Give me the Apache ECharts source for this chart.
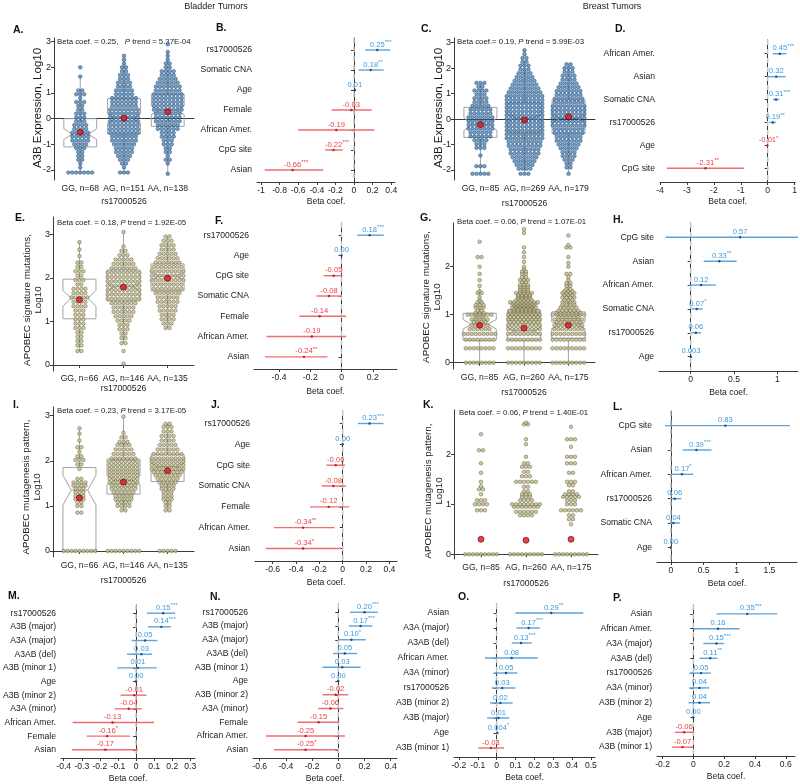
<!DOCTYPE html>
<html><head><meta charset="utf-8">
<script src="https://cdn.jsdelivr.net/npm/echarts@6/dist/echarts.min.js"></script>
<style>html,body{margin:0;padding:0;background:#fff}#c{width:800px;height:784px}</style>
</head><body><div id="c"></div>
<script>
// ================= DATA =================
// swarm rows: [log10 value, number of dots in that row]
const labelsA = ['GG, n=68','AG, n=151','AA, n=138'];
const yTicksA = [-2,-1,0,1,2,3];
const A_GG = [[2.0,1],[1.64,1],[1.1,2],[0.95,3],[0.8,1],[0.65,3],[0.5,2],[0.35,2],[0.2,3],[0.05,3],[-0.1,3],[-0.25,4],[-0.4,4],[-0.55,5],[-0.7,5],[-0.85,5],[-1.0,4],[-1.15,3],[-1.3,2],[-1.45,2],[-1.6,2],[-1.75,1],[-1.9,1],[-2.1,7]];
const A_AG = [[2.45,1],[2.3,1],[2.15,1],[2.0,2],[1.85,2],[1.7,3],[1.55,3],[1.4,4],[1.25,4],[1.1,5],[0.95,5],[0.8,7],[0.65,7],[0.5,7],[0.35,8],[0.2,8],[0.05,8],[-0.1,8],[-0.25,8],[-0.4,8],[-0.55,8],[-0.7,7],[-0.85,7],[-1.0,6],[-1.15,5],[-1.3,5],[-1.45,4],[-1.6,3],[-1.75,2],[-1.9,1],[-2.1,3]];
const A_AA = [[2.9,1],[2.6,1],[2.45,1],[2.3,1],[2.15,2],[2.0,2],[1.85,4],[1.7,4],[1.55,5],[1.4,6],[1.25,7],[1.1,7],[0.95,8],[0.8,8],[0.65,8],[0.5,8],[0.35,8],[0.2,7],[0.05,7],[-0.1,7],[-0.25,6],[-0.4,6],[-0.55,4],[-0.7,4],[-0.85,3],[-1.0,3],[-1.15,2],[-1.3,2],[-1.45,1],[-1.6,2],[-1.75,1],[-2.15,1]];
// boxes: [whiskerLow, q1, notchLow, median, notchHigh, q3, whiskerHigh]
const boxesA = [[-2.1,-1.1,-0.81,-0.6,-0.39,0.0,1.65],[-2.1,-0.6,-0.16,0.02,0.2,0.78,2.3],[-2.15,-0.3,0.16,0.33,0.5,0.95,2.6]];
const meansA = [-0.53,0.02,0.27];

const labelsC = ['GG, n=85','AG, n=269','AA, n=179'];
const yTicksC = [-2,-1,0,1,2,3];
const C_GG = [[1.42,3],[1.27,2],[1.12,4],[0.97,3],[0.82,4],[0.67,4],[0.52,5],[0.37,6],[0.22,6],[0.07,7],[-0.08,7],[-0.23,7],[-0.38,7],[-0.53,6],[-0.68,6],[-0.83,4],[-0.98,3],[-1.13,3],[-1.43,1],[-1.85,3],[-2.15,5]];
const C_AG = [[2.7,1],[2.55,1],[2.4,2],[2.25,2],[2.1,3],[1.95,3],[1.8,4],[1.65,5],[1.5,6],[1.35,7],[1.2,8],[1.05,9],[0.9,10],[0.75,10],[0.6,10],[0.45,10],[0.3,10],[0.15,10],[0.0,10],[-0.15,10],[-0.3,10],[-0.45,10],[-0.6,10],[-0.75,10],[-0.9,9],[-1.05,9],[-1.2,8],[-1.35,8],[-1.5,7],[-1.65,6],[-1.8,5],[-1.95,4],[-2.15,3]];
const C_AA = [[2.15,2],[2.0,3],[1.85,3],[1.7,4],[1.55,4],[1.4,5],[1.25,6],[1.1,7],[0.95,7],[0.8,8],[0.65,8],[0.5,9],[0.35,9],[0.2,9],[0.05,9],[-0.1,9],[-0.25,9],[-0.4,8],[-0.55,8],[-0.7,7],[-0.85,7],[-1.0,6],[-1.15,5],[-1.3,4],[-1.45,4],[-1.6,3],[-1.75,2],[-1.9,2],[-2.15,1]];
const boxesC = [[-2.15,-0.72,-0.45,-0.2,0.05,0.46,1.42],[-2.15,-0.53,-0.06,0.05,0.16,0.64,2.3],[-2.1,-0.56,-0.12,0.03,0.18,0.75,2.1]];
const meansC = [-0.22,-0.04,0.09];

const labelsE = ['GG, n=66','AG, n=146','AA, n=135'];
const yTicksE = [0,1,2,3];
const E_GG = [[2.82,1],[2.65,1],[2.5,1],[2.35,2],[2.25,2],[2.15,3],[2.05,2],[1.95,3],[1.85,2],[1.75,4],[1.65,4],[1.55,5],[1.45,4],[1.35,4],[1.25,3],[1.15,3],[1.05,3],[0.95,3],[0.85,3],[0.75,2],[0.65,2],[0.55,2],[0.45,2],[0.32,2]];
const E_AG = [[3.05,1],[2.72,1],[2.62,2],[2.52,3],[2.42,5],[2.32,6],[2.22,7],[2.12,9],[2.02,9],[1.92,9],[1.82,9],[1.72,9],[1.62,9],[1.52,9],[1.42,7],[1.32,6],[1.22,6],[1.12,5],[1.02,4],[0.92,3],[0.82,3],[0.72,2],[0.62,2],[0.5,2],[0.32,1],[0.03,1]];
const E_AA = [[2.95,2],[2.85,3],[2.75,4],[2.65,4],[2.55,5],[2.45,6],[2.35,7],[2.25,8],[2.15,9],[2.05,9],[1.95,9],[1.85,8],[1.75,8],[1.65,7],[1.55,6],[1.45,6],[1.35,5],[1.25,5],[1.15,4],[1.05,4],[0.95,3],[0.85,2]];
const boxesE = [[0.32,1.06,1.35,1.53,1.71,1.97,2.82],[0.5,1.47,1.71,1.8,1.89,2.18,3.05],[0.85,1.7,1.95,2.04,2.13,2.32,2.95]];
const meansE = [1.5,1.79,1.99];

const labelsG = ['GG, n=85','AG, n=260','AA, n=175'];
const yTicksG = [0,1,2];
const G_GG = [[0,8],[0.3,8],[0.48,8],[0.6,9],[0.7,6],[0.78,5],[0.85,4],[0.9,5],[0.95,3],[1.0,7],[1.04,3],[1.08,2],[1.15,3],[1.2,3],[1.26,2],[1.3,1],[1.36,1],[1.45,2],[1.49,1],[1.6,1],[1.72,1],[1.85,1],[2.0,1],[2.2,2],[2.52,1]];
const G_AG = [[0,9],[0.3,9],[0.48,9],[0.6,9],[0.7,9],[0.78,9],[0.85,8],[0.9,9],[0.95,8],[1.0,9],[1.04,8],[1.08,8],[1.11,6],[1.15,7],[1.18,5],[1.2,6],[1.23,7],[1.26,8],[1.3,5],[1.34,4],[1.38,4],[1.41,4],[1.45,5],[1.49,3],[1.53,3],[1.58,3],[1.62,3],[1.68,2],[1.72,3],[1.78,2],[1.85,2],[1.9,2],[1.95,1],[2.0,1],[2.1,1],[2.2,1],[2.3,1],[2.4,1],[2.7,1],[2.78,1]];
const G_AA = [[0,9],[0.3,9],[0.48,9],[0.6,9],[0.7,8],[0.78,8],[0.85,7],[0.9,8],[0.95,6],[1.0,9],[1.04,7],[1.08,6],[1.15,5],[1.2,4],[1.26,4],[1.3,3],[1.36,4],[1.41,3],[1.45,4],[1.49,3],[1.53,2],[1.6,2],[1.66,2],[1.72,1],[1.78,1],[1.85,2],[2.0,1],[2.08,1],[2.2,1],[2.4,2],[2.45,1],[2.65,1]];
const boxesG = [[0,0.47,0.7,0.8,0.9,1.03,1.55],[0,0.47,0.6,0.66,0.72,1.1,1.95],[0,0.51,0.71,0.78,0.85,1.06,1.7]];
const meansG = [0.78,0.72,0.78];

const labelsI = ['GG, n=66','AG, n=146','AA, n=135'];
const yTicksI = [0,1,2,3];
const I_GG = [[2.72,1],[2.6,1],[2.45,1],[2.3,2],[2.2,1],[2.1,2],[2.02,3],[1.92,2],[1.82,1],[1.6,2],[1.52,4],[1.45,4],[1.38,3],[1.3,3],[1.22,3],[1.15,3],[1.08,2],[1.0,2],[0.85,2],[0,9]];
const I_AG = [[2.98,1],[2.62,1],[2.52,2],[2.42,3],[2.35,4],[2.25,5],[2.15,6],[2.05,7],[1.98,8],[1.9,8],[1.82,8],[1.75,8],[1.68,8],[1.6,8],[1.52,8],[1.45,7],[1.38,7],[1.3,6],[1.22,5],[1.15,5],[1.08,4],[1.0,4],[0.9,2],[0,9]];
const I_AA = [[2.82,2],[2.75,3],[2.65,3],[2.55,4],[2.45,4],[2.35,5],[2.25,6],[2.15,8],[2.05,9],[1.98,9],[1.9,9],[1.82,9],[1.75,8],[1.68,7],[1.6,6],[1.52,5],[1.45,4],[1.38,4],[1.3,3],[1.22,3],[1.15,3],[1.08,2],[1.0,2],[0.9,2],[0,5]];
const boxesI = [[0,0,1.02,1.35,1.68,1.85,2.72],[0.9,1.26,1.47,1.57,1.67,2.04,2.98],[0.9,1.54,1.79,1.87,1.95,2.14,2.82]];
const meansI = [1.18,1.53,1.78];

const labelsK = ['GG, n=85','AG, n=260','AA, n=175'];
const yTicksK = [0,1,2];
const K_GG = [[0,9],[0.88,3],[1.0,4],[1.08,3],[1.2,1],[1.3,2],[1.36,1],[1.45,1],[1.63,1],[1.82,1],[2.08,2],[2.4,1]];
const K_AG = [[0,9],[0.78,4],[0.85,6],[0.95,7],[1.0,8],[1.08,4],[1.15,3],[1.2,3],[1.26,2],[1.35,2],[1.45,6],[1.56,3],[1.65,2],[1.75,3],[1.82,2],[1.95,1],[2.2,1],[2.3,1],[2.6,2],[2.63,1]];
const K_AA = [[0,9],[0.6,1],[0.7,2],[0.78,2],[0.88,6],[1.0,3],[1.08,3],[1.15,5],[1.2,4],[1.26,2],[1.38,2],[1.45,3],[1.63,2],[1.82,3],[1.95,3],[2.15,1],[2.3,3],[2.55,1]];
const boxesK = [];
const meansK = [0.3,0.28,0.3];

// forest plots
const namesB = ['rs17000526','Somatic CNA','Age','Female','African Amer.','CpG site','Asian'];
const estB = [0.25,0.18,0.01,-0.03,-0.19,-0.22,-0.66];
const loB  = [0.12,0.05,0.0,-0.24,-0.6,-0.31,-0.96];
const hiB  = [0.39,0.32,0.02,0.19,0.22,-0.12,-0.33];
const txtB = ['0.25','0.18','0.01','-0.03','-0.19','-0.22','-0.66'];
const sigB = ['***','**','','','','***','***'];
const ticksB = [-1,-0.8,-0.6,-0.4,-0.2,0,0.2,0.4];

const namesD = ['African Amer.','Asian','Somatic CNA','rs17000526','Age','CpG site'];
const estD = [0.45,0.32,0.31,0.19,-0.01,-2.31];
const loD  = [0.18,-0.03,0.19,0.06,-0.02,-3.74];
const hiD  = [0.7,0.67,0.43,0.31,0.0,-0.87];
const txtD = ['0.45','0.32','0.31','0.19','-0.01','-2.31'];
const sigD = ['***','','***','**','*','**'];
const ticksD = [-4,-3,-2,-1,0,1];

const namesF = ['rs17000526','Age','CpG site','Somatic CNA','Female','African Amer.','Asian'];
const estF = [0.18,0.0,-0.05,-0.08,-0.14,-0.19,-0.24];
const loF  = [0.1,-0.004,-0.115,-0.16,-0.27,-0.48,-0.49];
const hiF  = [0.27,0.004,0.006,0.0,0.03,0.03,-0.09];
const txtF = ['0.18','0.00','-0.05','-0.08','-0.14','-0.19','-0.24'];
const sigF = ['***','','','','','','**'];
const ticksF = [-0.4,-0.2,0,0.2];

const namesH = ['CpG site','Asian','African Amer.','Somatic CNA','rs17000526','Age'];
const estH = [0.57,0.33,0.12,0.07,0.06,0.003];
const loH  = [-0.29,0.15,-0.02,0.01,0.01,0.0];
const hiH  = [1.43,0.53,0.29,0.14,0.12,0.006];
const txtH = ['0.57','0.33','0.12','0.07','0.06','0.003'];
const sigH = ['','**','','*','',''];
const ticksH = [0,0.5,1];

const namesJ = ['rs17000526','Age','CpG site','Somatic CNA','Female','African Amer.','Asian'];
const estJ = [0.23,0.0,-0.06,-0.08,-0.12,-0.34,-0.34];
const loJ  = [0.13,-0.004,-0.14,-0.18,-0.28,-0.59,-0.66];
const hiJ  = [0.35,0.004,0.02,0.03,0.055,-0.07,-0.015];
const txtJ = ['0.23','0.00','-0.06','-0.08','-0.12','-0.34','-0.34'];
const sigJ = ['***','','','','','**','*'];
const ticksJ = [-0.6,-0.4,-0.2,0,0.2,0.4];

const namesL = ['CpG site','Asian','African Amer.','rs17000526','Somatic CNA','Age'];
const estL = [0.83,0.39,0.17,0.06,0.04,0.0];
const loL  = [-0.09,0.18,0.0,-0.01,-0.02,-0.004];
const hiL  = [1.81,0.62,0.34,0.16,0.14,0.004];
const txtL = ['0.83','0.39','0.17','0.06','0.04','0.00'];
const sigL = ['','***','*','','',''];
const ticksL = [0,0.5,1,1.5];

const namesM = ['rs17000526','A3B (major)','A3A (major)','A3AB (del)','A3B (minor 1)','Age','A3B (minor 2)','A3A (minor)','African Amer.','Female','Asian'];
const estM = [0.15,0.14,0.05,0.03,0.01,0.0,-0.01,-0.04,-0.13,-0.16,-0.17];
const loM  = [0.06,0.066,-0.024,-0.05,-0.104,-0.002,-0.085,-0.117,-0.351,-0.273,-0.355];
const hiM  = [0.217,0.193,0.118,0.089,0.115,0.002,0.057,0.031,0.1,-0.033,0.01];
const txtM = ['0.15','0.14','0.05','0.03','0.01','0.00','-0.01','-0.04','-0.13','-0.16','-0.17'];
const sigM = ['***','***','','','','','','','','*',''];
const ticksM = [-0.4,-0.3,-0.2,-0.1,0,0.1,0.2,0.3];

const namesN = ['rs17000526','A3B (major)','A3A (major)','A3AB (del)','A3B (minor 1)','Age','A3B (minor 2)','A3A (minor)','Female','African Amer.','Asian'];
const estN = [0.20,0.17,0.10,0.05,0.03,0.0,-0.02,-0.06,-0.15,-0.25,-0.25];
const loN  = [0.089,0.08,0.0,-0.04,-0.12,-0.003,-0.12,-0.153,-0.31,-0.552,-0.49];
const hiN  = [0.3,0.26,0.21,0.145,0.17,0.003,0.076,0.038,0.008,0.05,-0.005];
const txtN = ['0.20','0.17','0.10','0.05','0.03','0.00','-0.02','-0.06','-0.15','-0.25','-0.25'];
const sigN = ['***','***','*','','','','','','','','*'];
const ticksN = [-0.6,-0.4,-0.2,0,0.2,0.4];

const namesO = ['Asian','A3A (major)','A3AB (del)','African Amer.','A3A (minor)','rs17000526','A3B (minor 2)','A3B (major)','Age','A3B (minor 1)'];
const estO = [0.29,0.17,0.13,0.08,0.05,0.03,0.02,0.01,0.004,-0.03];
const loO  = [0.1,0.106,0.08,-0.062,-0.014,-0.027,-0.035,-0.05,0.002,-0.097];
const hiO  = [0.46,0.23,0.186,0.218,0.11,0.1,0.085,0.067,0.006,0.04];
const txtO = ['0.29','0.17','0.13','0.08','0.05','0.03','0.02','0.01','0.004','-0.03'];
const sigO = ['**','***','***','','','','','','*',''];
const ticksO = [-0.2,-0.1,0,0.1,0.2,0.3,0.4,0.5];

const namesP = ['Asian','African Amer.','A3A (major)','A3AB (del)','rs17000526','A3A (minor)','A3B (minor 2)','Age','A3B (major)','A3B (minor 1)'];
const estP = [0.35,0.16,0.15,0.11,0.05,0.04,0.04,0.0,-0.06,-0.07];
const loP  = [0.151,0.0,0.065,0.04,-0.026,-0.026,-0.032,-0.002,-0.119,-0.14];
const hiP  = [0.545,0.3,0.2,0.156,0.112,0.104,0.108,0.002,0.006,0.0];
const txtP = ['0.35','0.16','0.15','0.11','0.05','0.04','0.04','0.00','-0.06','-0.07'];
const sigP = ['***','','***','**','','','','','',''];
const ticksP = [-0.2,0,0.2,0.4,0.6];

// ================= STYLE / LAYOUT =================
const FF = '"Liberation Sans", Arial, sans-serif';
const TXT = '#1a1a1a', AX = '#3a3a3a', BOXC = '#a3a3a3';
const BLUE_DOT = {color:'#4d8cc8', borderColor:'#1f3d5b', borderWidth:0.6};
const KHAKI_DOT = {color:'#c6c088', borderColor:'#5a5740', borderWidth:0.6};
const BLUE_L = '#5ea3da', RED_L = '#f26c6f', BLUE_T = '#3b9ade', RED_T = '#ec3e44', BLUE_P = '#1f4f7c', RED_P = '#b3232a';
const DOT = 3.6, DOT_STEP = 3.95;
const FS = {xcat:8.6, ytick:9, fname:8.6, ftick:8.6, xname:8.6, annot:7.8, val:7.6, star:6, letter:10.5, head:9};

const swarms = [
  {g:[54,38,140,142], y:[-2.39,3.144], rows:[A_GG,A_AG,A_AA], boxes:boxesA, means:meansA, labels:labelsA, ticks:yTicksA, dot:BLUE_DOT, gap:17, lm:4,
   title:'A3B Expression, Log10', tpos:[38,108], tsize:11.5, annot:['Beta coef. = 0.25,   ','P',' trend = 5.37E-04'], apos:[57,42]},
  {g:[454,38,141,142], y:[-2.393,3.185], rows:[C_GG,C_AG,C_AA], boxes:boxesC, means:meansC, labels:labelsC, ticks:yTicksC, dot:BLUE_DOT, gap:19, lm:4,
   title:'A3B Expression, Log10', tpos:[439,108], tsize:11.5, annot:['Beta coef.= 0.19, ','P',' trend = 5.99E-03'], apos:[457,42]},
  {g:[53,217,141,154], y:[-0.138,3.397], rows:[E_GG,E_AG,E_AA], boxes:boxesE, means:meansE, labels:labelsE, ticks:yTicksE, dot:KHAKI_DOT, gap:13, lm:3,
   title:'APOBEC signature mutations,\nLog10', tpos:[33,300], tsize:9.8, annot:['Beta coef. = 0.18, ','P',' trend = 1.92E-05'], apos:[57,223]},
  {g:[453,223,142,146], y:[-0.131,2.91], rows:[G_GG,G_AG,G_AA], boxes:boxesG, means:meansG, labels:labelsG, ticks:yTicksG, dot:KHAKI_DOT, gap:19, lm:4,
   title:'APOBEC signature mutations,\nLog10', tpos:[432,297], tsize:9.8, annot:['Beta coef. = 0.06, ','P',' trend = 1.07E-01'], apos:[457,222]},
  {g:[53,407,141,150], y:[-0.133,3.193], rows:[I_GG,I_AG,I_AA], boxes:boxesI, means:meansI, labels:labelsI, ticks:yTicksI, dot:KHAKI_DOT, gap:19, lm:4,
   title:'APOBEC mutagenesis pattern,\nLog10', tpos:[32,487], tsize:9.8, annot:['Beta coef. = 0.23, ','P',' trend = 3.17E-05'], apos:[57,411]},
  {g:[454,410,144,149], y:[-0.094,2.886], rows:[K_GG,K_AG,K_AA], boxes:boxesK, means:meansK, labels:labelsK, ticks:yTicksK, dot:KHAKI_DOT, gap:20, lm:4,
   title:'APOBEC mutagenesis pattern,\nLog10', tpos:[434,491], tsize:9.8, annot:['Beta coef. = 0.06, ','P',' trend = 1.40E-01'], apos:[459,413]}
];
const forests = [
  {g:[257,38,138,144], x:[-1.043,0.441], names:namesB, est:estB, lo:loB, hi:hiB, txt:txtB, sig:sigB, ticks:ticksB, gap:15},
  {g:[660,40,139,142], x:[-4.0,1.025], names:namesD, est:estD, lo:loD, hi:hiD, txt:txtD, sig:sigD, ticks:ticksD, gap:15},
  {g:[254,223,143,146], x:[-0.56,0.355], names:namesF, est:estF, lo:loF, hi:hiF, txt:txtF, sig:sigF, ticks:ticksF, gap:18},
  {g:[659,223,139,148], x:[-0.366,1.239], names:namesH, est:estH, lo:loH, hi:hiH, txt:txtH, sig:sigH, ticks:ticksH, gap:17},
  {g:[255,411,142,150], x:[-0.752,0.465], names:namesJ, est:estJ, lo:loJ, hi:hiJ, txt:txtJ, sig:sigJ, ticks:ticksJ, gap:17},
  {g:[657,411,140,151], x:[-0.21,1.92], names:namesL, est:estL, lo:loL, hi:hiL, txt:txtL, sig:sigL, ticks:ticksL, gap:17},
  {g:[52,605,143,154], x:[-0.415,0.326], names:namesM, est:estM, lo:loM, hi:hiM, txt:txtM, sig:sigM, ticks:ticksM, gap:16},
  {g:[253,604,144,154], x:[-0.651,0.448], names:namesN, est:estN, lo:loN, hi:hiN, txt:txtN, sig:sigN, ticks:ticksN, gap:16},
  {g:[454,604,141,153], x:[-0.226,0.522], names:namesO, est:estO, lo:loO, hi:hiO, txt:txtO, sig:sigO, ticks:ticksO, gap:16},
  {g:[657,605,138,151], x:[-0.236,0.66], names:namesP, est:estP, lo:loP, hi:hiP, txt:txtP, sig:sigP, ticks:ticksP, gap:16}
];
const letters = [['A.',13,30],['B.',216,28],['C.',421,29],['D.',615,29],['E.',15,218],['F.',215,221],['G.',420,218],['H.',613,220],
  ['I.',13,405],['J.',211,405],['K.',423,405],['L.',613,407],['M.',8,596],['N.',210,597],['O.',458,597],['P.',613,598]];

// ================= BUILD =================
const grid=[], xAxis=[], yAxis=[], series=[], graphic=[];
const lblStyle = (size)=>({fontFamily:FF, fontSize:size, color:TXT});

function boxRender(params, api){
  const x=api.value(0), wlo=api.value(1), q1=api.value(2), nlo=api.value(3), med=api.value(4), nhi=api.value(5), q3=api.value(6), whi=api.value(7);
  const hw=0.375, nw=0.1875, P=(a,b)=>api.coord([a,b]);
  const pts=[P(x-hw,q1),P(x-hw,nlo),P(x-nw,med),P(x-hw,nhi),P(x-hw,q3),P(x+hw,q3),P(x+hw,nhi),P(x+nw,med),P(x+hw,nlo),P(x+hw,q1)];
  const ln=(a,b)=>({type:'line', shape:{x1:a[0],y1:a[1],x2:b[0],y2:b[1]}, style:{stroke:BOXC, lineWidth:1}});
  return {type:'group', children:[
    {type:'polygon', shape:{points:pts}, style:{fill:'rgba(0,0,0,0)', stroke:BOXC, lineWidth:1}},
    ln(P(x-nw,med),P(x+nw,med)), ln(P(x,q3),P(x,whi)), ln(P(x,q1),P(x,wlo))]};
}

swarms.forEach(p=>{
  const gi=grid.length;
  grid.push({left:p.g[0], top:p.g[1], width:p.g[2], height:p.g[3]});
  xAxis.push({gridIndex:gi, type:'value', min:0.4, max:3.6, name:'rs17000526', nameLocation:'middle', nameGap:p.gap,
    nameTextStyle:lblStyle(FS.xname), axisLine:{lineStyle:{color:AX}}, axisTick:{length:3, customValues:[1,2,3], lineStyle:{color:AX}},
    axisLabel:Object.assign({customValues:[1,2,3], margin:p.lm, formatter:v=>p.labels[Math.round(v)-1]}, lblStyle(FS.xcat)), splitLine:{show:false}});
  yAxis.push({gridIndex:gi, type:'value', min:p.y[0], max:p.y[1], axisLine:{show:true, lineStyle:{color:AX}},
    axisTick:{show:true, length:3, customValues:p.ticks, lineStyle:{color:AX}},
    axisLabel:Object.assign({customValues:p.ticks, margin:3}, lblStyle(FS.ytick)), splitLine:{show:false}});
  if(p.boxes.length) series.push({type:'custom', xAxisIndex:gi, yAxisIndex:gi, silent:true, z:2,
    data:p.boxes.map((b,i)=>[i+1].concat(b)), renderItem:boxRender});
  const dx = DOT_STEP/(p.g[2]/3.2); const pts=[];
  p.rows.forEach((rows,k)=>rows.forEach(([y,c])=>{ for(let j=0;j<c;j++) pts.push([k+1+(j-(c-1)/2)*dx, y]); }));
  series.push({type:'scatter', xAxisIndex:gi, yAxisIndex:gi, silent:true, z:3, data:pts, symbol:'circle', symbolSize:DOT, itemStyle:p.dot});
  series.push({type:'scatter', xAxisIndex:gi, yAxisIndex:gi, silent:true, z:4, data:p.means.map((m,i)=>[i+1,m]), symbol:'circle', symbolSize:6,
    itemStyle:{color:'#e8121c', borderColor:'#5a0a0a', borderWidth:0.8}});
  graphic.push({type:'text', x:p.tpos[0], y:p.tpos[1], rotation:Math.PI/2, silent:true,
    style:{text:p.title, fontFamily:FF, fontSize:p.tsize, fill:TXT, align:'center', verticalAlign:'middle', lineHeight:p.tsize+1}});
  graphic.push({type:'text', x:p.apos[0], y:p.apos[1], silent:true,
    style:{text:`{n|${p.annot[0]}}{i|${p.annot[1]}}{n|${p.annot[2]}}`, align:'left', verticalAlign:'middle',
      rich:{n:{fontFamily:FF, fontSize:FS.annot, fill:TXT}, i:{fontFamily:FF, fontSize:FS.annot, fontStyle:'italic', fill:TXT}}}});
});

function forestRender(p){
  return function(params, api){
    const e=api.value(0), y=api.value(3), i=api.value(4);
    const lo=Math.max(api.value(1), p.x[0]), hi=Math.min(api.value(2), p.x[1]);
    const neg = p.txt[i].charAt(0)==='-';
    const lc = neg?RED_L:BLUE_L, tc = neg?RED_T:BLUE_T, pc = neg?RED_P:BLUE_P;
    const a=api.coord([lo,y]), b=api.coord([hi,y]), c=api.coord([e,y]);
    const st=p.sig[i];
    const kids=[];
    if(b[0]-a[0]>0.5) kids.push({type:'line', shape:{x1:a[0],y1:a[1],x2:b[0],y2:b[1]}, style:{stroke:lc, lineWidth:1.4}});
    kids.push({type:'circle', shape:{cx:c[0], cy:c[1], r:1.2}, style:{fill:pc}});
    kids.push({type:'text', x:c[0], y:c[1]-0.5, style:{
      text:(st?`{h|${st}}`:'')+`{v|${p.txt[i]}}`+(st?`{s|${st}}`:''), align:'center', verticalAlign:'bottom',
      rich:{h:{fontFamily:FF, fontSize:FS.star, fill:'rgba(0,0,0,0)', verticalAlign:'top'},
            v:{fontFamily:FF, fontSize:FS.val, fill:tc, lineHeight:10},
            s:{fontFamily:FF, fontSize:FS.star, fill:tc, verticalAlign:'top'}}}});
    return {type:'group', children:kids};
  };
}

forests.forEach(p=>{
  const gi=grid.length, n=p.names.length;
  const cats=p.names.map((_,i)=>i+1);
  grid.push({left:p.g[0], top:p.g[1], width:p.g[2], height:p.g[3]});
  xAxis.push({gridIndex:gi, type:'value', min:p.x[0], max:p.x[1], name:'Beta coef.', nameLocation:'middle', nameGap:p.gap,
    nameTextStyle:lblStyle(FS.xname), axisLine:{lineStyle:{color:AX}}, axisTick:{length:3, customValues:p.ticks, lineStyle:{color:AX}},
    axisLabel:Object.assign({customValues:p.ticks, margin:4}, lblStyle(FS.ftick)), splitLine:{show:false}});
  yAxis.push({gridIndex:gi, type:'value', inverse:true, min:0.4, max:n+0.6, axisLine:{show:true, lineStyle:{color:AX}},
    axisTick:{show:true, length:3, customValues:cats, lineStyle:{color:AX}},
    axisLabel:Object.assign({customValues:cats, margin:5, formatter:v=>p.names[Math.round(v)-1]}, lblStyle(FS.fname)), splitLine:{show:false}});
  series.push({type:'line', xAxisIndex:gi, yAxisIndex:gi, silent:true, z:1, symbol:'none', data:[[0,0.4],[0,n+0.6]],
    lineStyle:{color:'#c6c6c6', width:1.5, type:[5,4]}});
  series.push({type:'custom', xAxisIndex:gi, yAxisIndex:gi, silent:true, z:3, clip:false,
    data:p.est.map((e,i)=>[e,p.lo[i],p.hi[i],i+1,i]), renderItem:forestRender(p)});
});

letters.forEach(([t,x,y])=>graphic.push({type:'text', x, y, silent:true,
  style:{text:t, fontFamily:FF, fontSize:FS.letter, fontWeight:'bold', fill:'#111', align:'left', verticalAlign:'middle'}}));
graphic.push({type:'text', x:216, y:7, silent:true, style:{text:'Bladder Tumors', fontFamily:FF, fontSize:FS.head, fill:TXT, align:'center', verticalAlign:'middle'}});
graphic.push({type:'text', x:612, y:7, silent:true, style:{text:'Breast Tumors', fontFamily:FF, fontSize:FS.head, fill:TXT, align:'center', verticalAlign:'middle'}});

const chart = echarts.init(document.getElementById('c'), null, {renderer:'canvas'});
chart.setOption({animation:false, backgroundColor:'#fff', grid, xAxis, yAxis, series, graphic});
</script></body></html>
